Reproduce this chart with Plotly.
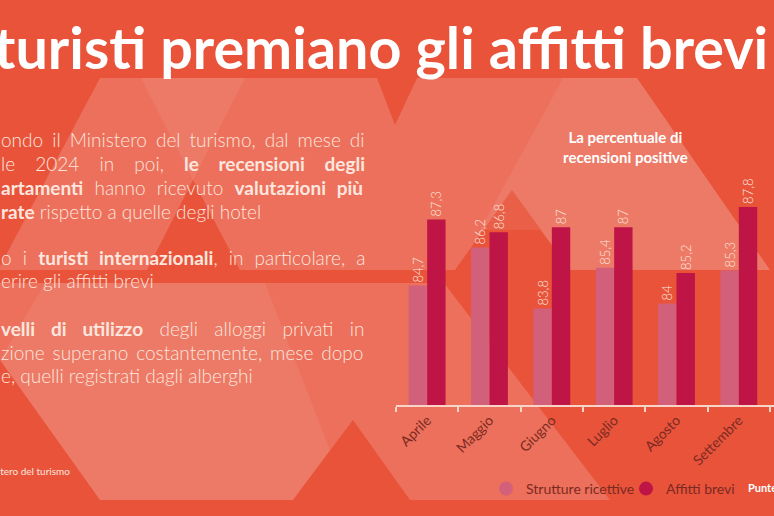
import plotly.graph_objects as go

# ---- dati ----
mesi = ["Aprile", "Maggio", "Giugno", "Luglio", "Agosto", "Settembre"]
strutture_ricettive = [84.7, 86.2, 83.8, 85.4, 84.0, 85.3]
affitti_brevi = [87.3, 86.8, 87.0, 87.0, 85.2, 87.8]

BG = "#E8533A"
LIGHT = "rgba(255,255,255,0.17)"
LIGHTER = "rgba(255,255,255,0.07)"
COL_STRUTTURE = "#D3607A"
COL_AFFITTI = "#BE1446"
TXT_LIGHT = "#FCE6DF"
TXT_DARK = "#7B2A22"
AXIS = "#F8D3C8"

W, H = 774, 516
PL, PR, PT, PB = 396, 774, 151, 405   # area del grafico in pixel


def px(x):
    return (x - PL) / (PR - PL)


def py(y):
    return (PB - y) / (PB - PT)


def fmt(v):
    return f"{v:g}".replace(".", ",")


fig = go.Figure()
for nome, valori, col in [("Strutture ricettive", strutture_ricettive, COL_STRUTTURE),
                          ("Affitti brevi", affitti_brevi, COL_AFFITTI)]:
    fig.add_trace(go.Bar(
        x=mesi, y=valori, name=nome,
        marker_color=col, marker_line_width=0,
        text=[fmt(v) for v in valori], textposition="outside",
        textangle=-90, textfont=dict(color=TXT_LIGHT, size=13, family="Lato", weight=300),
        constraintext="none", cliponaxis=False, showlegend=False,
        hovertemplate="%{x}<br>" + nome + ": %{y}<extra></extra>",
    ))
# voci di legenda con pallini
for nome, col in [("Strutture ricettive", COL_STRUTTURE), ("Affitti brevi", COL_AFFITTI)]:
    fig.add_trace(go.Scatter(x=[None], y=[None], mode="markers", name=nome,
                             marker=dict(color=col, size=14, symbol="circle")))

# ---- sfondo geometrico ----
poligoni = [
    # fascia superiore
    ([(100, 78), (377, 78), (395, 125), (417, 78), (637, 78), (770, 270), (570, 270),
      (512, 190), (455, 270), (240, 270), (193, 180), (147, 270), (-2, 270)], LIGHT),
    # fascia inferiore
    ([(0, 283), (444, 283), (610, 500), (410, 500), (353, 420), (293, 500),
      (100, 500), (0, 360)], LIGHT),
    # zone piu' chiare
    ([(141, 78), (245, 78), (193, 180)], LIGHTER),
    ([(563, 78), (637, 78), (770, 270), (570, 270), (540, 230), (480, 230)], LIGHTER),
    ([(45, 283), (265, 283), (330, 450), (293, 500), (100, 500), (0, 360)], LIGHTER),
]
shapes = []
for pts, col in poligoni:
    path = "M " + " L ".join(f"{px(x):.4f},{py(y):.4f}" for x, y in pts) + " Z"
    shapes.append(dict(type="path", path=path, xref="paper", yref="paper",
                       fillcolor=col, line_width=0, layer="below"))

# ---- testi ----
ann = []


def testo(t, x, y, xanchor="left", **font):
    ann.append(dict(text=t, x=px(x), y=py(y), xref="paper", yref="paper",
                    xanchor=xanchor, yanchor="middle", showarrow=False, font=font))


testo("<b>I turisti premiano gli affitti brevi</b>", -39, 46,
      family="Lato", size=57.5, color="white")
ann.append(dict(text="<b>La percentuale di<br>recensioni positive</b>", x=px(625), y=py(147),
                xref="paper", yref="paper", xanchor="center", yanchor="middle",
                showarrow=False, font=dict(family="Lato", size=15, color="white")))

righe = [
    ("ondo il Ministero del turismo, dal mese di", 139, 3.9),
    ("le 2024 in poi, <b>le recensioni degli</b>", 163, 15),
    ("<b>artamenti</b> hanno ricevuto <b>valutazioni più</b>", 187, 6),
    ("<b>rate</b> rispetto a quelle degli hotel", 211, 0),
    ("o i <b>turisti internazionali</b>, in particolare, a", 257, 6),
    ("erire gli affitti brevi", 280, 0),
    ("<b>velli di utilizzo</b> degli alloggi privati in", 328, 11.2),
    ("zione superano costantemente, mese dopo", 352, 2.8),
    ("e, quelli registrati dagli alberghi", 375, 0),
]
for riga, y, ws in righe:
    testo(f'<span style="word-spacing:{ws}px">{riga}</span>', -1, y,
          family="Lato", size=19, color=TXT_LIGHT, weight=300)

testo("Fonte: Ministero del turismo", 72, 471, xanchor="right",
      family="Lato", size=10, color=TXT_LIGHT)
testo("<b>Punteggio medio</b>", 746, 488, family="Lato", size=11, color="white")

fig.update_layout(
    width=W, height=H,
    margin=dict(l=PL, r=W - PR, t=PT, b=H - PB, pad=0, autoexpand=False),
    paper_bgcolor=BG, plot_bgcolor="rgba(0,0,0,0)",
    barmode="group", bargap=0.41, bargroupgap=0,
    shapes=shapes, annotations=ann,
    font=dict(family="Lato", color=TXT_DARK),
    xaxis=dict(range=[-0.5, 5.564], showline=True, linecolor=AXIS, linewidth=1.5,
               ticks="outside", tickson="boundaries", ticklen=5, tickcolor=AXIS,
               tickwidth=1.5, tickangle=-45, showgrid=False, fixedrange=True,
               tickfont=dict(family="Lato", size=14, color=TXT_DARK)),
    yaxis=dict(range=[80, 90], visible=False, showgrid=False, fixedrange=True),
    legend=dict(orientation="h", x=px(486), y=py(489), xanchor="left", yanchor="middle",
                bgcolor="rgba(0,0,0,0)", font=dict(family="Lato", size=14, color=TXT_DARK),
                itemwidth=30, entrywidth=95),
)

fig.write_html("out.html", config={"displayModeBar": False},
               post_script="document.body.style.margin='0';")
